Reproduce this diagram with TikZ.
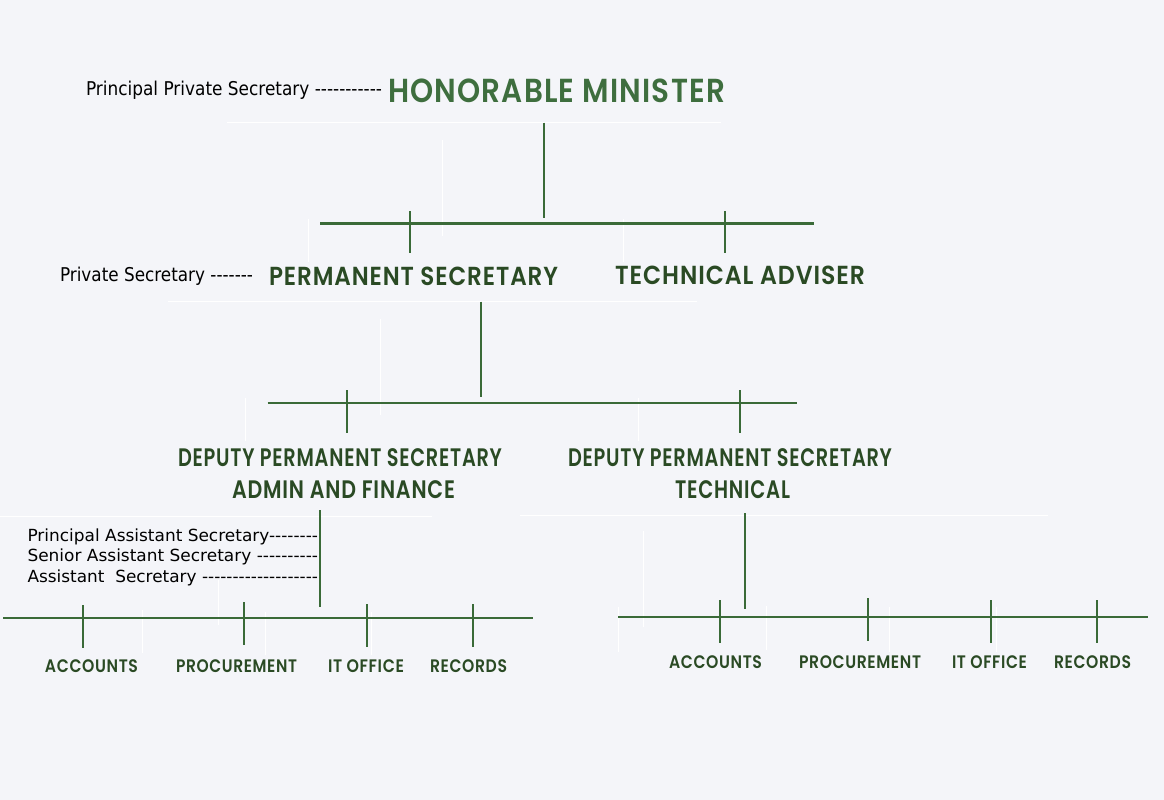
\documentclass[tikz,border=0pt]{standalone}
\usepackage{fontspec}
\setmainfont{DejaVu Sans}
\newfontfamily\headfont{Poppins}[UprightFont={* SemiBold}, BoldFont={* SemiBold}, LetterSpace=4]
\definecolor{bg}{HTML}{F4F5F9}
\definecolor{titlegreen}{HTML}{3E6E3E}
\definecolor{darkgreen}{HTML}{2A4A24}
\definecolor{linegreen}{HTML}{3A6A38}
% stretch or squeeze a text to a given width, keeping its height
\newcommand\fitto[2]{\resizebox{#1}{\height}{#2}}
% a run of plain hyphens (kerns keep them from joining into dashes)
\newcommand\hyrun[1]{\ifnum#1>0 -\kern0pt\hyrun{\numexpr#1-1\relax}\fi}
\begin{document}
\begin{tikzpicture}[x=1pt,y=-1pt,
  lbl/.style={inner sep=0pt, outer sep=0pt, anchor=base west},
  head/.style={lbl, text=darkgreen, font=\headfont},
  note/.style={lbl, text=black},
  bar/.style={draw=linegreen, line width=2.4pt},
  stem/.style={draw=linegreen, line width=2pt},
  ghost/.style={draw=white, line width=1pt}]
\fill[bg] (0,0) rectangle (1164,800);
\useasboundingbox (0,0) rectangle (1164,800);

% ---------- faint guide lines ----------
\coordinate (g1a) at (227,122.3);  \coordinate (g1b) at (721,122.3);
\coordinate (g2a) at (442.6,140);  \coordinate (g2b) at (442.6,236);
\coordinate (g3a) at (308.7,219);  \coordinate (g3b) at (308.7,262);
\coordinate (g4a) at (623,219);    \coordinate (g4b) at (623,262);
\coordinate (g5a) at (168,301);    \coordinate (g5b) at (697,301);
\coordinate (g6a) at (380,319);    \coordinate (g6b) at (380,415);
\coordinate (g7a) at (245.7,398);  \coordinate (g7b) at (245.7,441);
\coordinate (g8a) at (638,398);    \coordinate (g8b) at (638,441);
\coordinate (g9a) at (0,516);      \coordinate (g9b) at (432,516);
\coordinate (g10a) at (520,515.5); \coordinate (g10b) at (1048,515.5);
\coordinate (g11a) at (142,610);   \coordinate (g11b) at (142,653);
\coordinate (g12a) at (218,580);   \coordinate (g12b) at (218,625);
\coordinate (g13a) at (265,612);   \coordinate (g13b) at (265,655);
\coordinate (g14a) at (371,612);   \coordinate (g14b) at (371,655);
\coordinate (g15a) at (618,607);   \coordinate (g15b) at (618,652);
\coordinate (g16a) at (643,531);   \coordinate (g16b) at (643,627);
\coordinate (g17a) at (766,606);   \coordinate (g17b) at (766,650);
\coordinate (g18a) at (889,607);   \coordinate (g18b) at (889,652);
\coordinate (g19a) at (996,607);   \coordinate (g19b) at (996,652);
\foreach \g in {1,...,19} \draw[ghost] (g\g a) -- (g\g b);

% ---------- texts ----------
\node[note, font=\fontsize{19}{19}\selectfont] (ppsec) at (86,95.7)
  {\fitto{296pt}{Principal Private Secretary \hyrun{11}}};
\node[head, text=titlegreen] (minister) at (388,102.3)
  {\fitto{337pt}{\fontsize{33.3}{33.3}\selectfont HONORABLE MINISTER}};
\node[note, font=\fontsize{19}{19}\selectfont] (psec) at (60,281)
  {\fitto{193pt}{Private Secretary \hyrun{7}}};
\node[head] (permsec) at (269,285)
  {\fitto{289pt}{\fontsize{26.1}{26.1}\selectfont PERMANENT SECRETARY}};
\node[head] (techadv) at (615,284.5)
  {\fitto{250pt}{\fontsize{26.1}{26.1}\selectfont TECHNICAL ADVISER}};
\node[head] (dpsA) at (178,466.7)
  {\fitto{324pt}{\fontsize{25.3}{25.3}\selectfont DEPUTY PERMANENT SECRETARY}};
\node[head] (dpsAsub) at (232,498)
  {\fitto{223pt}{\fontsize{25.3}{25.3}\selectfont ADMIN AND FINANCE}};
\node[head] (dpsT) at (568,466.7)
  {\fitto{324pt}{\fontsize{25.3}{25.3}\selectfont DEPUTY PERMANENT SECRETARY}};
\node[head] (dpsTsub) at (675,498)
  {\fitto{115pt}{\fontsize{25.3}{25.3}\selectfont TECHNICAL}};

\node[note, font=\fontsize{16.7}{16.7}\selectfont] (pas) at (27.5,541.5)
  {\fitto{290.5pt}{Principal Assistant Secretary\hyrun{8}}};
\node[note, font=\fontsize{16.7}{16.7}\selectfont] (sas) at (27.5,561.5)
  {\fitto{290.5pt}{Senior Assistant Secretary \hyrun{10}}};
\node[note, font=\fontsize{16.7}{16.7}\selectfont] (as) at (27.5,582.5)
  {\fitto{290.5pt}{Assistant\ \ Secretary \hyrun{19}}};

\node[head] (accA) at (45,672.7)   {\fitto{93pt}{\fontsize{18.1}{18.1}\selectfont ACCOUNTS}};
\node[head] (procA) at (176,672.7) {\fitto{121pt}{\fontsize{18.1}{18.1}\selectfont PROCUREMENT}};
\node[head] (itA) at (328,672.7)   {\fitto{76pt}{\fontsize{18.1}{18.1}\selectfont IT OFFICE}};
\node[head] (recA) at (430,672.7)  {\fitto{77pt}{\fontsize{18.1}{18.1}\selectfont RECORDS}};
\node[head] (accT) at (669,668.7)  {\fitto{93pt}{\fontsize{18.1}{18.1}\selectfont ACCOUNTS}};
\node[head] (procT) at (799,668.7) {\fitto{122pt}{\fontsize{18.1}{18.1}\selectfont PROCUREMENT}};
\node[head] (itT) at (952,668.7)   {\fitto{75pt}{\fontsize{18.1}{18.1}\selectfont IT OFFICE}};
\node[head] (recT) at (1054,668.7) {\fitto{77pt}{\fontsize{18.1}{18.1}\selectfont RECORDS}};

% ---------- minister level ----------
\coordinate (m0) at (543.5,122.7); \coordinate (m1) at (543.5,218);
\coordinate (b1L) at (320,223.3);  \coordinate (b1R) at (814,223.3);
\coordinate (k1a) at (409.5,211);  \coordinate (k1b) at (409.5,253);
\coordinate (k2a) at (725,211);    \coordinate (k2b) at (725,253);
\draw[stem] (m0) -- (m1);
\draw[bar] (b1L) -- (b1R);
\draw[stem] (k1a) -- (k1b);
\draw[stem] (k2a) -- (k2b);

% ---------- permanent secretary level ----------
\coordinate (p0) at (480.5,301.7); \coordinate (p1) at (480.5,397);
\coordinate (b2L) at (267.6,402.7); \coordinate (b2R) at (797,402.7);
\coordinate (k3a) at (347,390);    \coordinate (k3b) at (347,432.7);
\coordinate (k4a) at (739.5,390);  \coordinate (k4b) at (739.5,432.7);
\draw[stem] (p0) -- (p1);
\draw[bar] (b2L) -- (b2R);
\draw[stem] (k3a) -- (k3b);
\draw[stem] (k4a) -- (k4b);

% ---------- admin and finance units ----------
\coordinate (a0) at (320,510);     \coordinate (a1) at (320,607);
\coordinate (b3L) at (3,617.7);    \coordinate (b3R) at (533,617.7);
\coordinate (k5a) at (83,605);     \coordinate (k5b) at (83,648);
\coordinate (k6a) at (244,602);    \coordinate (k6b) at (244,645);
\coordinate (k7a) at (367,604);    \coordinate (k7b) at (367,647);
\coordinate (k8a) at (473,604);    \coordinate (k8b) at (473,647);
\draw[stem] (a0) -- (a1);
\draw[bar] (b3L) -- (b3R);
\foreach \k in {5,6,7,8} \draw[stem] (k\k a) -- (k\k b);

% ---------- technical units ----------
\coordinate (t0) at (745,513);     \coordinate (t1) at (745,609);
\coordinate (b4L) at (618,617);    \coordinate (b4R) at (1148,617);
\coordinate (k9a) at (720,600);    \coordinate (k9b) at (720,643);
\coordinate (k10a) at (868,598);   \coordinate (k10b) at (868,641);
\coordinate (k11a) at (991,600);   \coordinate (k11b) at (991,643);
\coordinate (k12a) at (1097,600);  \coordinate (k12b) at (1097,643);
\draw[stem] (t0) -- (t1);
\draw[bar] (b4L) -- (b4R);
\foreach \k in {9,10,11,12} \draw[stem] (k\k a) -- (k\k b);
\end{tikzpicture}
\end{document}
